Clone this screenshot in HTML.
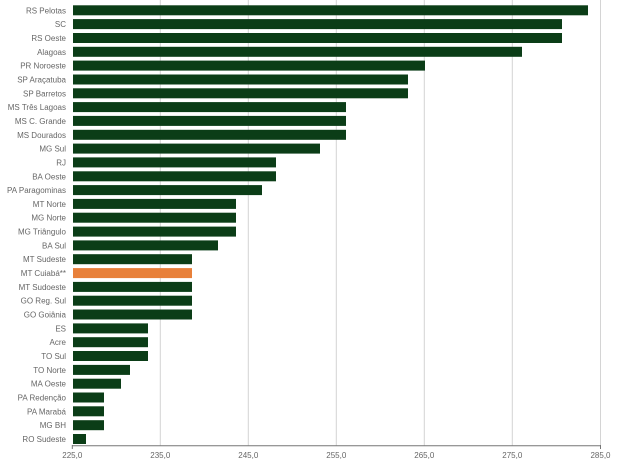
<!DOCTYPE html>
<html><head><meta charset="utf-8"><style>
html,body{margin:0;padding:0;background:#fff;}
svg{display:block;font-family:"Liberation Sans",sans-serif;}
.l{font-size:8px;fill:#666;text-anchor:end;}
.t{font-size:8px;fill:#666;text-anchor:middle;}
</style></head><body>
<svg width="630" height="465" viewBox="0 0 630 465">
<g stroke="#d4d4d4" stroke-width="1">
<line x1="160.3" y1="0" x2="160.3" y2="446"/>
<line x1="248.3" y1="0" x2="248.3" y2="446"/>
<line x1="336.3" y1="0" x2="336.3" y2="446"/>
<line x1="424.3" y1="0" x2="424.3" y2="446"/>
<line x1="512.3" y1="0" x2="512.3" y2="446"/>
<line x1="600.5" y1="0" x2="600.5" y2="446"/>
</g>
<g id="bars"></g>
<line x1="72" y1="445.7" x2="601" y2="445.7" stroke="#777" stroke-width="1"/>
<g stroke="#777"><line x1="72.3" y1="445" x2="72.3" y2="449"/><line x1="600.5" y1="445" x2="600.5" y2="449"/></g>
<g class="t">
<text x="72.3" y="458" class="t">225,0</text>
<text x="160.3" y="458" class="t">235,0</text>
<text x="248.3" y="458" class="t">245,0</text>
<text x="336.3" y="458" class="t">255,0</text>
<text x="424.3" y="458" class="t">265,0</text>
<text x="512.3" y="458" class="t">275,0</text>
<text x="600.5" y="458" class="t">285,0</text>
</g>
<g>
<rect x="73" y="5.3" width="515" height="10" fill="#0b3d17"/><text class="l" x="66" y="13.3">RS Pelotas</text>
<rect x="73" y="19.1" width="489" height="10" fill="#0b3d17"/><text class="l" x="66" y="27.1">SC</text>
<rect x="73" y="33.0" width="489" height="10" fill="#0b3d17"/><text class="l" x="66" y="41.0">RS Oeste</text>
<rect x="73" y="46.8" width="449" height="10" fill="#0b3d17"/><text class="l" x="66" y="54.8">Alagoas</text>
<rect x="73" y="60.6" width="352" height="10" fill="#0b3d17"/><text class="l" x="66" y="68.6">PR Noroeste</text>
<rect x="73" y="74.5" width="335" height="10" fill="#0b3d17"/><text class="l" x="66" y="82.5">SP Araçatuba</text>
<rect x="73" y="88.3" width="335" height="10" fill="#0b3d17"/><text class="l" x="66" y="96.3">SP Barretos</text>
<rect x="73" y="102.1" width="273" height="10" fill="#0b3d17"/><text class="l" x="66" y="110.1">MS Três Lagoas</text>
<rect x="73" y="115.9" width="273" height="10" fill="#0b3d17"/><text class="l" x="66" y="123.9">MS C. Grande</text>
<rect x="73" y="129.8" width="273" height="10" fill="#0b3d17"/><text class="l" x="66" y="137.8">MS Dourados</text>
<rect x="73" y="143.6" width="247" height="10" fill="#0b3d17"/><text class="l" x="66" y="151.6">MG Sul</text>
<rect x="73" y="157.4" width="203" height="10" fill="#0b3d17"/><text class="l" x="66" y="165.4">RJ</text>
<rect x="73" y="171.3" width="203" height="10" fill="#0b3d17"/><text class="l" x="66" y="179.3">BA Oeste</text>
<rect x="73" y="185.1" width="189" height="10" fill="#0b3d17"/><text class="l" x="66" y="193.1">PA Paragominas</text>
<rect x="73" y="198.9" width="163" height="10" fill="#0b3d17"/><text class="l" x="66" y="206.9">MT Norte</text>
<rect x="73" y="212.7" width="163" height="10" fill="#0b3d17"/><text class="l" x="66" y="220.7">MG Norte</text>
<rect x="73" y="226.6" width="163" height="10" fill="#0b3d17"/><text class="l" x="66" y="234.6">MG Triângulo</text>
<rect x="73" y="240.4" width="145" height="10" fill="#0b3d17"/><text class="l" x="66" y="248.4">BA Sul</text>
<rect x="73" y="254.2" width="119" height="10" fill="#0b3d17"/><text class="l" x="66" y="262.2">MT Sudeste</text>
<rect x="73" y="268.1" width="119" height="10" fill="#e8803a"/><text class="l" x="66" y="276.1">MT Cuiabá**</text>
<rect x="73" y="281.9" width="119" height="10" fill="#0b3d17"/><text class="l" x="66" y="289.9">MT Sudoeste</text>
<rect x="73" y="295.7" width="119" height="10" fill="#0b3d17"/><text class="l" x="66" y="303.7">GO Reg. Sul</text>
<rect x="73" y="309.5" width="119" height="10" fill="#0b3d17"/><text class="l" x="66" y="317.5">GO Goiânia</text>
<rect x="73" y="323.4" width="75" height="10" fill="#0b3d17"/><text class="l" x="66" y="331.4">ES</text>
<rect x="73" y="337.2" width="75" height="10" fill="#0b3d17"/><text class="l" x="66" y="345.2">Acre</text>
<rect x="73" y="351.0" width="75" height="10" fill="#0b3d17"/><text class="l" x="66" y="359.0">TO Sul</text>
<rect x="73" y="364.9" width="57" height="10" fill="#0b3d17"/><text class="l" x="66" y="372.9">TO Norte</text>
<rect x="73" y="378.7" width="48" height="10" fill="#0b3d17"/><text class="l" x="66" y="386.7">MA Oeste</text>
<rect x="73" y="392.5" width="31" height="10" fill="#0b3d17"/><text class="l" x="66" y="400.5">PA Redenção</text>
<rect x="73" y="406.3" width="31" height="10" fill="#0b3d17"/><text class="l" x="66" y="414.3">PA Marabá</text>
<rect x="73" y="420.2" width="31" height="10" fill="#0b3d17"/><text class="l" x="66" y="428.2">MG BH</text>
<rect x="73" y="434.0" width="13" height="10" fill="#0b3d17"/><text class="l" x="66" y="442.0">RO Sudeste</text>
</g>
</svg>
</body></html>
